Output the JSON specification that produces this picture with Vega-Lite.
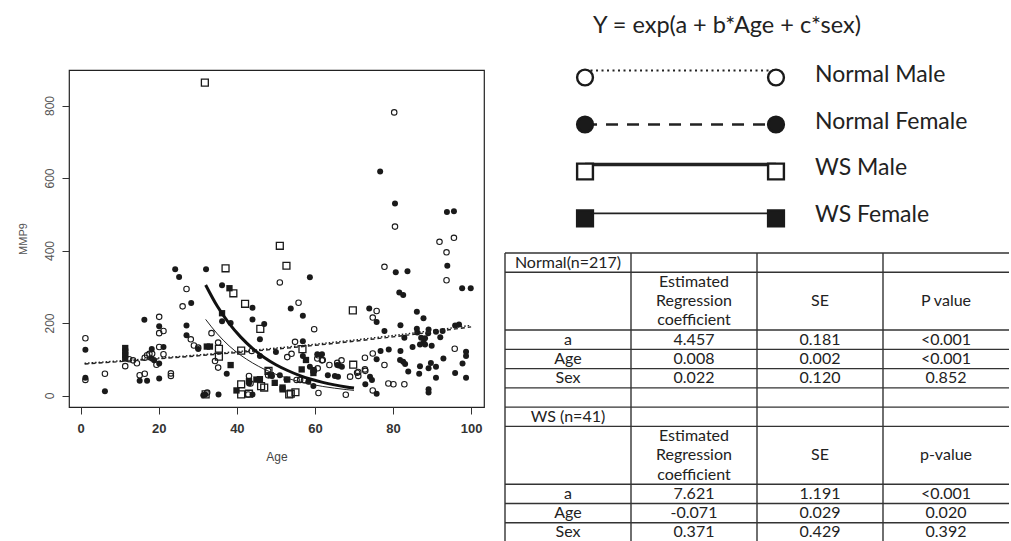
{
"$schema": "https://vega.github.io/schema/vega-lite/v6.json",
"padding": {"left": 16, "top": 0, "right": 0, "bottom": 0},
"background": "white",
"spacing": 19,
"config": {"view": {"stroke": null}, "font": "Liberation Sans"},
"datasets": {
"NM": [{"age":80.3,"mmp9":781},{"age":80.5,"mmp9":466},{"age":95.6,"mmp9":435},{"age":91.9,"mmp9":424},{"age":93.7,"mmp9":395},{"age":93.7,"mmp9":318},{"age":77.8,"mmp9":355},{"age":51.0,"mmp9":312},{"age":27.1,"mmp9":294},{"age":26.1,"mmp9":246},{"age":20.1,"mmp9":217},{"age":20.1,"mmp9":172},{"age":21.2,"mmp9":178},{"age":20.1,"mmp9":134},{"age":21.2,"mmp9":114},{"age":17.6,"mmp9":115},{"age":17.0,"mmp9":111},{"age":19.4,"mmp9":85},{"age":16.4,"mmp9":104},{"age":14.4,"mmp9":89},{"age":11.4,"mmp9":81},{"age":12.4,"mmp9":100},{"age":13.4,"mmp9":97},{"age":15.1,"mmp9":56},{"age":16.4,"mmp9":60},{"age":23.1,"mmp9":61},{"age":23.1,"mmp9":54},{"age":1.2,"mmp9":158},{"age":1.2,"mmp9":43},{"age":6.2,"mmp9":60},{"age":33.5,"mmp9":172},{"age":35.2,"mmp9":146},{"age":34.4,"mmp9":95},{"age":35.2,"mmp9":77},{"age":28.2,"mmp9":155},{"age":29.0,"mmp9":138},{"age":30.1,"mmp9":132},{"age":32.4,"mmp9":8},{"age":43.1,"mmp9":54},{"age":43.5,"mmp9":33},{"age":42.9,"mmp9":3},{"age":48.0,"mmp9":68},{"age":48.0,"mmp9":56},{"age":55.8,"mmp9":256},{"age":59.8,"mmp9":183},{"age":43.8,"mmp9":123},{"age":54.9,"mmp9":148},{"age":52.9,"mmp9":106},{"age":54.0,"mmp9":115},{"age":60.8,"mmp9":111},{"age":61.8,"mmp9":97},{"age":63.7,"mmp9":84},{"age":60.7,"mmp9":75},{"age":60.9,"mmp9":7},{"age":55.3,"mmp9":43},{"age":56.2,"mmp9":43},{"age":57.2,"mmp9":42},{"age":62.0,"mmp9":98},{"age":60.6,"mmp9":102},{"age":66.8,"mmp9":97},{"age":65.7,"mmp9":90},{"age":69.0,"mmp9":52},{"age":70.8,"mmp9":63},{"age":72.8,"mmp9":104},{"age":72.9,"mmp9":68},{"age":74.8,"mmp9":14},{"age":67.9,"mmp9":2},{"age":74.8,"mmp9":116},{"age":77.8,"mmp9":84},{"age":78.8,"mmp9":33},{"age":80.1,"mmp9":31},{"age":82.9,"mmp9":31},{"age":75.8,"mmp9":233},{"age":74.8,"mmp9":215},{"age":95.8,"mmp9":129},{"age":72.8,"mmp9":72},{"age":71.1,"mmp9":65},{"age":71.1,"mmp9":54},{"age":18.3,"mmp9":115}],
"NF": [{"age":76.7,"mmp9":618},{"age":80.5,"mmp9":530},{"age":93.8,"mmp9":506},{"age":95.6,"mmp9":508},{"age":93.9,"mmp9":358},{"age":97.7,"mmp9":296},{"age":99.9,"mmp9":296},{"age":80.7,"mmp9":340},{"age":83.7,"mmp9":343},{"age":81.6,"mmp9":284},{"age":82.6,"mmp9":277},{"age":58.7,"mmp9":326},{"age":24.2,"mmp9":348},{"age":25.2,"mmp9":327},{"age":32.1,"mmp9":348},{"age":28.3,"mmp9":255},{"age":36.2,"mmp9":304},{"age":44.0,"mmp9":242},{"age":44.0,"mmp9":210},{"age":47.0,"mmp9":197},{"age":45.9,"mmp9":155},{"age":50.0,"mmp9":120},{"age":53.8,"mmp9":240},{"age":16.3,"mmp9":209},{"age":20.1,"mmp9":191},{"age":21.2,"mmp9":134},{"age":18.2,"mmp9":128},{"age":18.2,"mmp9":102},{"age":18.8,"mmp9":97},{"age":20.1,"mmp9":88},{"age":15.1,"mmp9":41},{"age":17.0,"mmp9":41},{"age":20.1,"mmp9":47},{"age":1.2,"mmp9":126},{"age":1.2,"mmp9":49},{"age":6.2,"mmp9":12},{"age":31.4,"mmp9":1},{"age":35.3,"mmp9":3},{"age":37.4,"mmp9":60},{"age":27.1,"mmp9":193},{"age":27.1,"mmp9":166},{"age":30.1,"mmp9":128},{"age":43.1,"mmp9":33},{"age":44.0,"mmp9":3},{"age":51.0,"mmp9":56},{"age":52.7,"mmp9":44},{"age":56.9,"mmp9":220},{"age":36.2,"mmp9":205},{"age":38.4,"mmp9":200},{"age":56.9,"mmp9":150},{"age":45.9,"mmp9":109},{"age":56.9,"mmp9":109},{"age":58.7,"mmp9":79},{"age":61.8,"mmp9":114},{"age":60.6,"mmp9":114},{"age":63.3,"mmp9":56},{"age":65.1,"mmp9":54},{"age":65.7,"mmp9":84},{"age":59.8,"mmp9":68},{"age":49.0,"mmp9":54},{"age":58.3,"mmp9":38},{"age":59.6,"mmp9":26},{"age":66.1,"mmp9":83},{"age":66.9,"mmp9":79},{"age":65.9,"mmp9":52},{"age":74.1,"mmp9":52},{"age":74.6,"mmp9":43},{"age":72.9,"mmp9":31},{"age":75.8,"mmp9":5},{"age":75.8,"mmp9":100},{"age":76.8,"mmp9":123},{"age":78.9,"mmp9":127},{"age":77.8,"mmp9":178},{"age":73.9,"mmp9":240},{"age":75.8,"mmp9":203},{"age":86.1,"mmp9":231},{"age":87.8,"mmp9":213},{"age":81.9,"mmp9":194},{"age":86.1,"mmp9":184},{"age":86.2,"mmp9":174},{"age":89.1,"mmp9":182},{"age":91.0,"mmp9":176},{"age":92.7,"mmp9":178},{"age":92.1,"mmp9":161},{"age":89.0,"mmp9":172},{"age":88.2,"mmp9":158},{"age":87.2,"mmp9":159},{"age":87.8,"mmp9":146},{"age":86.9,"mmp9":141},{"age":88.2,"mmp9":141},{"age":82.9,"mmp9":159},{"age":89.9,"mmp9":137},{"age":85.0,"mmp9":134},{"age":95.9,"mmp9":193},{"age":96.9,"mmp9":196},{"age":98.7,"mmp9":121},{"age":98.7,"mmp9":109},{"age":81.9,"mmp9":123},{"age":81.8,"mmp9":98},{"age":82.6,"mmp9":93},{"age":83.1,"mmp9":87},{"age":83.9,"mmp9":66},{"age":86.9,"mmp9":81},{"age":89.1,"mmp9":75},{"age":86.7,"mmp9":60},{"age":89.7,"mmp9":90},{"age":91.0,"mmp9":79},{"age":92.9,"mmp9":102},{"age":91.0,"mmp9":49},{"age":95.9,"mmp9":62},{"age":97.8,"mmp9":88},{"age":98.7,"mmp9":49},{"age":89.1,"mmp9":17},{"age":89.1,"mmp9":8},{"age":31.9,"mmp9":3}],
"WM": [{"age":31.8,"mmp9":863},{"age":52.7,"mmp9":358},{"age":51.0,"mmp9":413},{"age":37.1,"mmp9":351},{"age":39.1,"mmp9":282},{"age":42.1,"mmp9":253},{"age":46.0,"mmp9":184},{"age":32.0,"mmp9":3},{"age":35.4,"mmp9":129},{"age":35.4,"mmp9":107},{"age":41.1,"mmp9":124},{"age":41.1,"mmp9":31},{"age":41.1,"mmp9":3},{"age":46.2,"mmp9":26},{"age":47.0,"mmp9":22},{"age":53.4,"mmp9":3},{"age":56.8,"mmp9":128},{"age":69.7,"mmp9":235},{"age":69.8,"mmp9":85},{"age":43.1,"mmp9":5},{"age":53.8,"mmp9":5},{"age":55.0,"mmp9":9},{"age":48.1,"mmp9":68}],
"WF": [{"age":11.4,"mmp9":131},{"age":11.4,"mmp9":121},{"age":11.4,"mmp9":112},{"age":11.4,"mmp9":102},{"age":38.1,"mmp9":296},{"age":32.3,"mmp9":135},{"age":33.1,"mmp9":135},{"age":38.4,"mmp9":84},{"age":43.1,"mmp9":40},{"age":39.9,"mmp9":14},{"age":45.0,"mmp9":44},{"age":48.7,"mmp9":56},{"age":49.7,"mmp9":35},{"age":51.7,"mmp9":22},{"age":36.2,"mmp9":227},{"age":57.7,"mmp9":98},{"age":56.6,"mmp9":72},{"age":52.9,"mmp9":44},{"age":51.7,"mmp9":17},{"age":59.6,"mmp9":62},{"age":59.6,"mmp9":70},{"age":45.9,"mmp9":45}],
"curves": [
{"group":"Normal Male","age":1,"mmp9":88.9},{"group":"Normal Male","age":20,"mmp9":103.4},{"group":"Normal Male","age":40,"mmp9":121.0},{"group":"Normal Male","age":60,"mmp9":141.5},{"group":"Normal Male","age":80,"mmp9":165.5},{"group":"Normal Male","age":100,"mmp9":193.6},
{"group":"Normal Female","age":1,"mmp9":86.9},{"group":"Normal Female","age":20,"mmp9":101.2},{"group":"Normal Female","age":40,"mmp9":118.4},{"group":"Normal Female","age":60,"mmp9":138.4},{"group":"Normal Female","age":80,"mmp9":161.9},{"group":"Normal Female","age":100,"mmp9":189.3},
{"group":"WS Male","age":32,"mmp9":305},{"group":"WS Male","age":35,"mmp9":246},{"group":"WS Male","age":38,"mmp9":199},{"group":"WS Male","age":41,"mmp9":161},{"group":"WS Male","age":44,"mmp9":130},{"group":"WS Male","age":47,"mmp9":105},{"group":"WS Male","age":50,"mmp9":85},{"group":"WS Male","age":53,"mmp9":69},{"group":"WS Male","age":56,"mmp9":55.5},{"group":"WS Male","age":59,"mmp9":44.8},{"group":"WS Male","age":62,"mmp9":36.2},{"group":"WS Male","age":65,"mmp9":29.3},{"group":"WS Male","age":68,"mmp9":23.7},{"group":"WS Male","age":70,"mmp9":20.5},
{"group":"WS Female","age":32,"mmp9":210},{"group":"WS Female","age":35,"mmp9":170},{"group":"WS Female","age":38,"mmp9":137},{"group":"WS Female","age":41,"mmp9":111},{"group":"WS Female","age":44,"mmp9":90},{"group":"WS Female","age":47,"mmp9":72.5},{"group":"WS Female","age":50,"mmp9":58.6},{"group":"WS Female","age":53,"mmp9":47.4},{"group":"WS Female","age":56,"mmp9":38.3},{"group":"WS Female","age":59,"mmp9":30.9},{"group":"WS Female","age":62,"mmp9":25},{"group":"WS Female","age":65,"mmp9":20.2},{"group":"WS Female","age":68,"mmp9":16.4},{"group":"WS Female","age":70,"mmp9":14.2}
],
"legend": [{"group":"Normal Male"},{"group":"Normal Female"},{"group":"WS Male"},{"group":"WS Female"}],
"table": [
{"col":0,"line":0,"text":"Normal(n=217)"},
{"col":1,"line":1,"text":"Estimated"},{"col":1,"line":2,"text":"Regression"},{"col":1,"line":3,"text":"coefficient"},{"col":2,"line":2,"text":"SE"},{"col":3,"line":2,"text":"P value"},
{"col":0,"line":4,"text":"a"},{"col":1,"line":4,"text":"4.457"},{"col":2,"line":4,"text":"0.181"},{"col":3,"line":4,"text":"<0.001"},
{"col":0,"line":5,"text":"Age"},{"col":1,"line":5,"text":"0.008"},{"col":2,"line":5,"text":"0.002"},{"col":3,"line":5,"text":"<0.001"},
{"col":0,"line":6,"text":"Sex"},{"col":1,"line":6,"text":"0.022"},{"col":2,"line":6,"text":"0.120"},{"col":3,"line":6,"text":"0.852"},
{"col":0,"line":8,"text":"WS (n=41)"},
{"col":1,"line":9,"text":"Estimated"},{"col":1,"line":10,"text":"Regression"},{"col":1,"line":11,"text":"coefficient"},{"col":2,"line":10,"text":"SE"},{"col":3,"line":10,"text":"p-value"},
{"col":0,"line":12,"text":"a"},{"col":1,"line":12,"text":"7.621"},{"col":2,"line":12,"text":"1.191"},{"col":3,"line":12,"text":"<0.001"},
{"col":0,"line":13,"text":"Age"},{"col":1,"line":13,"text":"-0.071"},{"col":2,"line":13,"text":"0.029"},{"col":3,"line":13,"text":"0.020"},
{"col":0,"line":14,"text":"Sex"},{"col":1,"line":14,"text":"0.371"},{"col":2,"line":14,"text":"0.429"},{"col":3,"line":14,"text":"0.392"}
],
"hlines": [{"line":0},{"line":1},{"line":4},{"line":5},{"line":6},{"line":7},{"line":8},{"line":9},{"line":12},{"line":13},{"line":14}],
"vlines": [{"col":0},{"col":1},{"col":2},{"col":3}]
},
"hconcat": [
{
"spacing": 20,
"vconcat": [
{
"width": 415, "height": 49,
"data": {"values": []},
"mark": {"type": "text"},
"encoding": {}
},
{
"width": 415, "height": 337,
"view": {"stroke": "#222", "strokeWidth": 1.2},
"encoding": {
 "x": {"field": "age", "type": "quantitative", "scale": {"domain": [-3.0, 103.3], "nice": false, "zero": false},
  "axis": {"values": [0,20,40,60,80,100], "title": "Age", "grid": false, "domain": false, "tickSize": 7, "tickColor": "#333", "labelFontSize": 13, "labelFontWeight": "bold", "labelColor": "#333", "labelPadding": 8, "labelFlush": false, "titleFontSize": 12, "titleFontWeight": "normal", "titleColor": "#444", "titlePadding": 16}},
 "y": {"field": "mmp9", "type": "quantitative", "scale": {"domain": [-31.7, 898], "nice": false, "zero": false},
  "axis": {"values": [0,200,400,600,800], "title": "MMP9", "grid": false, "domain": false, "tickSize": 7, "tickColor": "#333", "labelAngle": -90, "labelAlign": "center", "labelBaseline": "bottom", "labelPadding": 6, "labelFlush": false, "labelFontSize": 12, "labelColor": "#555", "titleFontSize": 11, "titleFontWeight": "normal", "titleColor": "#555", "titlePadding": 15}}
},
"layer": [
 {"data": {"name": "NM"}, "mark": {"type": "point", "shape": "circle", "filled": false, "stroke": "#1a1a1a", "strokeWidth": 1.1, "size": 30, "opacity": 1}},
 {"data": {"name": "NF"}, "mark": {"type": "point", "shape": "circle", "filled": true, "color": "#1a1a1a", "size": 36, "opacity": 1}},
 {"data": {"name": "WM"}, "mark": {"type": "point", "shape": "square", "filled": false, "stroke": "#1a1a1a", "strokeWidth": 1.3, "size": 48, "opacity": 1}},
 {"data": {"name": "WF"}, "mark": {"type": "point", "shape": "square", "filled": true, "color": "#1a1a1a", "size": 40, "opacity": 1}},
 {"data": {"name": "curves"}, "transform": [{"filter": "datum.group === 'Normal Male'"}], "mark": {"type": "line", "color": "#222", "strokeWidth": 1.4, "strokeDash": [1.5, 2], "interpolate": "monotone"}, "encoding": {}},
 {"data": {"name": "curves"}, "transform": [{"filter": "datum.group === 'Normal Female'"}], "mark": {"type": "line", "color": "#222", "strokeWidth": 1.4, "strokeDash": [4, 3], "interpolate": "monotone"}, "encoding": {}},
 {"data": {"name": "curves"}, "transform": [{"filter": "datum.group === 'WS Male'"}], "mark": {"type": "line", "color": "#111", "strokeWidth": 3, "interpolate": "monotone"}, "encoding": {}},
 {"data": {"name": "curves"}, "transform": [{"filter": "datum.group === 'WS Female'"}], "mark": {"type": "line", "color": "#222", "strokeWidth": 1, "interpolate": "monotone"}, "encoding": {}}
]
}
]
},
{
"spacing": 3,
"vconcat": [
{
"width": 504, "height": 249,
"data": {"name": "legend"},
"layer": [
 {"transform": [{"filter": "datum.group === 'Normal Male'"}], "mark": {"type": "rule", "color": "#222", "strokeWidth": 2, "strokeDash": [2, 3.5], "yOffset": -7},
  "encoding": {"x": {"datum": 0, "type": "quantitative", "scale": {"domain": [-0.419, 2.22], "nice": false, "zero": false}, "axis": null}, "x2": {"datum": 1},
   "y": {"field": "group", "type": "nominal", "scale": {"type": "point", "domain": ["formula","Normal Male","Normal Female","WS Male","WS Female"], "padding": 0.65}, "axis": null}}},
 {"transform": [{"filter": "datum.group === 'Normal Female'"}], "mark": {"type": "rule", "color": "#222", "strokeWidth": 2.5, "strokeDash": [12, 9]},
  "encoding": {"x": {"datum": 0}, "x2": {"datum": 1}, "y": {"field": "group", "type": "nominal", "axis": null}}},
 {"transform": [{"filter": "datum.group === 'WS Male'"}], "mark": {"type": "rule", "color": "#222", "strokeWidth": 3.5, "yOffset": -7},
  "encoding": {"x": {"datum": 0}, "x2": {"datum": 1}, "y": {"field": "group", "type": "nominal", "axis": null}}},
 {"transform": [{"filter": "datum.group === 'WS Female'"}], "mark": {"type": "rule", "color": "#222", "strokeWidth": 1.8, "yOffset": -5},
  "encoding": {"x": {"datum": 0}, "x2": {"datum": 1}, "y": {"field": "group", "type": "nominal", "axis": null}}},
 {"mark": {"type": "point", "filled": true, "stroke": "#1a1a1a", "strokeWidth": 2.4, "size": 250, "opacity": 1},
  "encoding": {"x": {"datum": 0}, "y": {"field": "group", "type": "nominal", "axis": null},
   "shape": {"field": "group", "type": "nominal", "scale": {"domain": ["Normal Male","Normal Female","WS Male","WS Female"], "range": ["circle","circle","square","square"]}, "legend": null},
   "fill": {"field": "group", "type": "nominal", "scale": {"domain": ["Normal Male","Normal Female","WS Male","WS Female"], "range": ["white","#1a1a1a","white","#1a1a1a"]}, "legend": null}}},
 {"mark": {"type": "point", "filled": true, "stroke": "#1a1a1a", "strokeWidth": 2.4, "size": 250, "opacity": 1},
  "encoding": {"x": {"datum": 1}, "y": {"field": "group", "type": "nominal", "axis": null},
   "shape": {"field": "group", "type": "nominal", "legend": null},
   "fill": {"field": "group", "type": "nominal", "legend": null}}},
 {"mark": {"type": "text", "align": "left", "baseline": "middle", "font": "Lato", "fontSize": 23, "color": "#222", "dx": 39, "dy": -3},
  "encoding": {"x": {"datum": 1}, "y": {"field": "group", "type": "nominal", "axis": null}, "text": {"field": "group"}}},
 {"data": {"values": [{"label": "Y = exp(a + b*Age + c*sex)"}]},
  "mark": {"type": "text", "align": "left", "baseline": "middle", "font": "Lato", "fontSize": 23.5, "color": "#222", "dx": 8, "dy": -5},
  "encoding": {"x": {"datum": 0}, "y": {"datum": "formula", "type": "nominal", "axis": null}, "text": {"field": "label"}}}
]
},
{
"width": 504, "height": 289,
"layer": [
 {"data": {"name": "vlines"}, "mark": {"type": "rule", "color": "#333", "strokeWidth": 1.4},
  "encoding": {"x": {"field": "col", "type": "ordinal", "bandPosition": 0, "scale": {"type": "band", "domain": [0,1,2,3], "paddingInner": 0, "paddingOuter": 0}, "axis": null}}},
 {"data": {"name": "hlines"}, "mark": {"type": "rule", "color": "#333", "strokeWidth": 1.4},
  "encoding": {"y": {"field": "line", "type": "ordinal", "bandPosition": 0, "scale": {"type": "band", "domain": [0,1,2,3,4,5,6,7,8,9,10,11,12,13,14], "paddingInner": 0, "paddingOuter": 0}, "axis": null}}},
 {"data": {"name": "table"}, "mark": {"type": "text", "align": "center", "baseline": "middle", "font": "Lato", "fontSize": 16, "color": "#222"},
  "encoding": {"x": {"field": "col", "type": "ordinal", "bandPosition": 0.5, "axis": null}, "y": {"field": "line", "type": "ordinal", "bandPosition": 0.5, "axis": null}, "text": {"field": "text"}}}
]
}
]
}
]
}
